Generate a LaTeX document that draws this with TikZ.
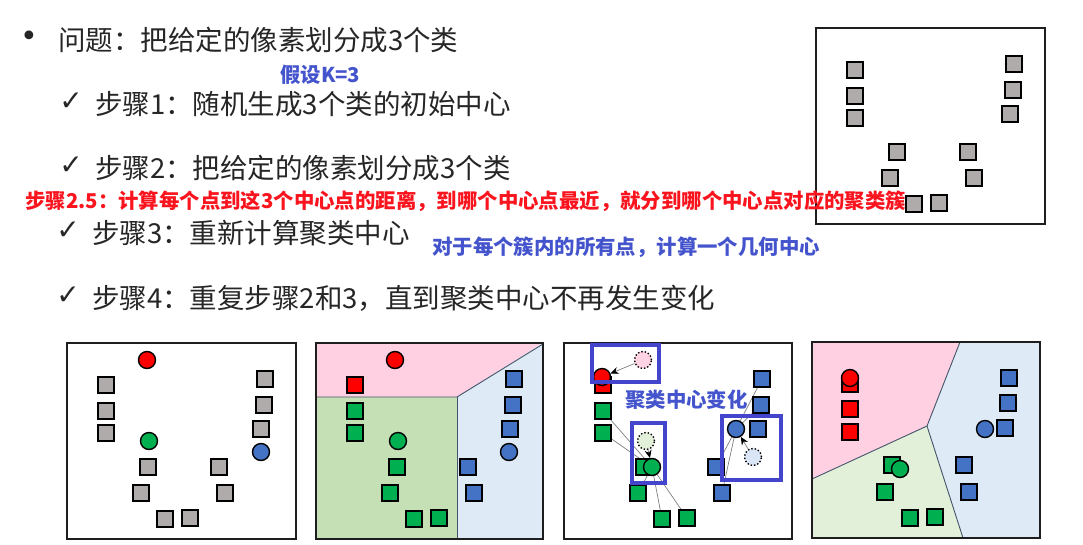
\documentclass[tikz,border=0pt]{standalone}
\usepackage{fontspec}
\newfontfamily\cjk{Noto Sans CJK SC}
\newfontfamily\djv{DejaVu Sans}
\usetikzlibrary{arrows.meta}
\pgfdeclarelayer{back}
\pgfdeclarelayer{mid}
\pgfsetlayers{back,mid,main}
\definecolor{bodytext}{RGB}{38,38,38}
\definecolor{sqgray}{RGB}{175,171,171}
\definecolor{cred}{RGB}{255,0,0}
\definecolor{cgreen}{RGB}{0,176,80}
\definecolor{cblue}{RGB}{68,114,196}
\definecolor{pinkreg}{RGB}{255,208,226}
\definecolor{greenregA}{RGB}{197,224,180}
\definecolor{greenregB}{RGB}{226,240,217}
\definecolor{bluereg}{RGB}{222,235,247}
\definecolor{regline}{RGB}{68,84,106}
\definecolor{framecol}{RGB}{30,30,30}
\definecolor{txtblue}{RGB}{68,84,204}
\definecolor{boxblue}{RGB}{68,68,204}
\definecolor{txtred}{RGB}{250,20,30}
\definecolor{ghostpink}{RGB}{255,210,228}
\definecolor{ghostgreen}{RGB}{226,240,217}
\definecolor{ghostblue}{RGB}{218,230,245}
\tikzset{
  maintxt/.style={font=\cjk\fontsize{27.5}{30}\selectfont, text=bodytext, inner sep=0pt, anchor=west},
  annot/.style={font=\cjk\bfseries\fontsize{20.4}{22}\selectfont, inner sep=0pt, anchor=west},
  chk/.style={font=\djv\fontsize{28}{30}\selectfont, text=bodytext, inner sep=0pt},
  panelframe/.style={draw=framecol, line width=1.8pt},
  ptsq/.style={rectangle, draw=black, line width=1.6pt, minimum size=16.5pt, inner sep=0pt},
  ctr/.style={circle, draw=black, line width=1.4pt, minimum size=17pt, inner sep=0pt},
  ghost/.style={circle, draw=black, dotted, line width=1.4pt, minimum size=17pt, inner sep=0pt},
  regionline/.style={draw=regline, line width=0.9pt},
  linkline/.style={draw=gray, line width=0.7pt},
  moveline/.style={draw=gray, line width=0.7pt, -{Stealth[length=8pt,width=7pt,black]}},
  hlbox/.style={draw=boxblue, line width=3.3pt},
}
\begin{document}
\begin{tikzpicture}[x=1pt,y=-1pt]
\begin{pgfonlayer}{back}
\fill[white] (0,0) rectangle (1083,544);
\end{pgfonlayer}
\useasboundingbox (0,0) rectangle (1083,544);

% ---------- texts ----------
\node[font=\djv\fontsize{30}{30}\selectfont, text=bodytext, inner sep=0pt] (bul) at (29,39) {•};
\node[maintxt] (q) at (58,40) {问题：把给定的像素划分成3个类};
\node[annot, text=txtblue] (k3) at (280,75) {假设K=3};
\node[chk] (ck1) at (71,102) {✓};
\node[maintxt] (s1) at (95,104.5) {步骤1：随机生成3个类的初始中心};
\node[chk] (ck2) at (71,166) {✓};
\node[maintxt] (s2) at (95,168) {步骤2：把给定的像素划分成3个类};
\node[chk] (ck3) at (68,231) {✓};
\node[maintxt] (s3) at (92,233) {步骤3：重新计算聚类中心};
\node[chk] (ck4) at (68,296) {✓};
\node[maintxt] (s4) at (92,298) {步骤4：重复步骤2和3，直到聚类中心不再发生变化};

% ---------- top-right frame ----------
\draw[panelframe] (816,28) rectangle (1045,224);
\begin{scope}[shift={(816,28)}]
\foreach \i/\px/\py in {1/39/42,2/39/68,3/39/90,4/198/36,5/197/62,6/194/86,7/81/124,8/152/124,9/74/150,10/158/150,11/98/176,12/123/175}
  \node[ptsq, fill=sqgray] (t\i) at (\px,\py) {};
\end{scope}

\node[annot, text=txtred] (s25) at (25,201.5) {步骤2.5：计算每个点到这3个中心点的距离，到哪个中心点最近，就分到哪个中心点对应的聚类簇};
\node[annot, text=txtblue] (geo) at (432,247) {对于每个簇内的所有点，计算一个几何中心};

% ---------- panel 1 ----------
\draw[panelframe] (67,343) rectangle (296,539);
\begin{scope}[shift={(67,343)}]
\foreach \i/\px/\py in {1/39/42,2/39/68,3/39/90,4/198/36,5/197/62,6/194/86,7/81/124,8/152/124,9/74/150,10/158/150,11/98/176,12/123/175}
  \node[ptsq, fill=sqgray] (a\i) at (\px,\py) {};
\node[ctr, fill=cred] (ar) at (80,17) {};
\node[ctr, fill=cgreen] (ag) at (82,98) {};
\node[ctr, fill=cblue] (ab) at (194,109) {};
\end{scope}

% ---------- panel 2 ----------
\begin{scope}[shift={(316,343)}]
\fill[pinkreg] (0,0) -- (227,0) -- (141,54) -- (0,54) -- cycle;
\fill[greenregA] (0,54) -- (141,54) -- (141,196) -- (0,196) -- cycle;
\fill[bluereg] (141,54) -- (227,0) -- (227,196) -- (141,196) -- cycle;
\draw[regionline] (0,54) -- (141,54) -- (227,1);
\draw[regionline] (141,54) -- (141,196);
\draw[panelframe] (0,0) rectangle (227,196);
\foreach \i/\px/\py/\c in {1/39/42/cred,2/39/68/cgreen,3/39/90/cgreen,4/198/36/cblue,5/197/62/cblue,6/194/86/cblue,7/81/124/cgreen,8/152/124/cblue,9/74/150/cgreen,10/158/150/cblue,11/98/176/cgreen,12/123/175/cgreen}
  \node[ptsq, fill=\c] (b\i) at (\px,\py) {};
\node[ctr, fill=cred] (br) at (79,17) {};
\node[ctr, fill=cgreen] (bg) at (82,98) {};
\node[ctr, fill=cblue] (bb) at (193,109) {};
\end{scope}

% ---------- panel 3 ----------
\draw[panelframe] (564,343) rectangle (792,539);
\begin{scope}[shift={(564,343)}]
\foreach \i/\px/\py/\c in {1/39/42/cred,2/39/68/cgreen,3/39/90/cgreen,4/198/36/cblue,5/197/62/cblue,6/194/86/cblue,7/80/124/cgreen,8/152/124/cblue,9/74/150/cgreen,10/158/150/cblue,11/98/176/cgreen,12/123/175/cgreen}
  \node[ptsq, fill=\c] (c\i) at (\px,\py) {};
\node[ghost, fill=ghostpink] (cr0) at (79,17) {};
\node[ghost, fill=ghostgreen] (cg0) at (82,98) {};
\node[ghost, fill=ghostblue] (cb0) at (189,114) {};
\node[ctr, fill=cred] (cr) at (38,34) {};
\node[ctr, fill=cgreen] (cg) at (88,124) {};
\node[ctr, fill=cblue] (cb) at (172,86) {};
\begin{pgfonlayer}{mid}
\draw[linkline] (cg.center) -- (c2.center);
\draw[linkline] (cg.center) -- (c3.center);
\draw[linkline] (cg.center) -- (c9.center);
\draw[linkline] (cg.center) -- (c11.center);
\draw[linkline] (cg.center) -- (c12.center);
\draw[linkline] (cb.center) -- (c4.center);
\draw[linkline] (cb.center) -- (c5.center);
\draw[linkline] (cb.center) -- (c8.center);
\draw[linkline] (cb.center) -- (c10.center);
\end{pgfonlayer}
\draw[moveline] (cr0) -- (cr);
\draw[moveline] (cg0) -- (cg);
\draw[moveline] (cb0) -- (cb);
\draw[hlbox] (28,2) rectangle (95,39);
\draw[hlbox] (68,80) rectangle (101,140);
\draw[hlbox] (158,73) rectangle (217,137);
\node[annot, text=txtblue] (chg) at (61,57) {聚类中心变化};
\end{scope}

% ---------- panel 4 ----------
\begin{scope}[shift={(812,342)}]
\fill[pinkreg] (0,0) -- (148,0) -- (115,84) -- (0,137) -- cycle;
\fill[bluereg] (148,0) -- (228,0) -- (228,196) -- (151,196) -- (115,84) -- cycle;
\fill[greenregB] (0,137) -- (115,84) -- (151,196) -- (0,196) -- cycle;
\draw[regionline] (148,0) -- (115,84) -- (151,196);
\draw[regionline] (0,137) -- (115,84);
\draw[panelframe] (0,0) rectangle (228,196);
\foreach \i/\px/\py/\c in {1/38/42/cred,2/38/67/cred,3/38/90/cred,4/197/36/cblue,5/196/61/cblue,6/193/86/cblue,7/80/123/cgreen,8/152/123/cblue,9/73/150/cgreen,10/157/150/cblue,11/98/176/cgreen,12/123/175/cgreen}
  \node[ptsq, fill=\c] (d\i) at (\px,\py) {};
\node[ctr, fill=cred] (dr) at (38,36) {};
\node[ctr, fill=cgreen] (dg) at (88,127) {};
\node[ctr, fill=cblue] (db) at (173,87) {};
\end{scope}
\end{tikzpicture}
\end{document}
